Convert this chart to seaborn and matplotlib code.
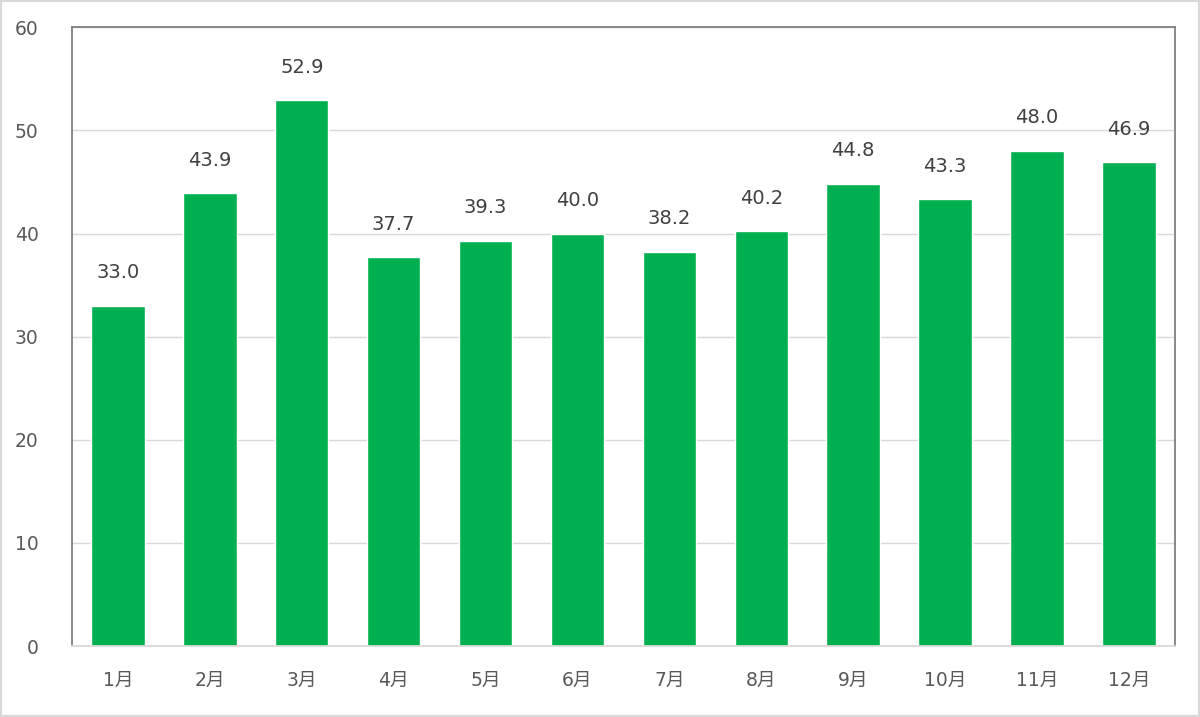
import numpy as np
import pandas as pd
import matplotlib
matplotlib.use("Agg")
import matplotlib.pyplot as plt
import seaborn as sns
from matplotlib.patches import Rectangle

# Data
months = ["1月", "2月", "3月", "4月", "5月", "6月",
          "7月", "8月", "9月", "10月", "11月", "12月"]
values = [33.0, 43.9, 52.9, 37.7, 39.3, 40.0,
          38.2, 40.2, 44.8, 43.3, 48.0, 46.9]
y_ticks = [0, 10, 20, 30, 40, 50, 60]

df = pd.DataFrame({"month": months, "value": values})

sns.set_theme(style="white")
# digits look like a wide sans (Verdana / Meiryo), CJK falls back to Noto
plt.rcParams["font.family"] = ["DejaVu Sans", "Noto Sans CJK JP"]

text_color = "#595959"
bar_color = "#00B050"
grid_color = "#d9d9d9"

fig = plt.figure(figsize=(12, 7.17), dpi=100)
ax = fig.add_axes([0.06, 0.099, 0.919, 0.863])

sns.barplot(data=df, x="month", y="value", color=bar_color,
            saturation=1, width=0.58, ax=ax)

ax.set_ylim(0, 60)
ax.set_xlim(-0.5, len(months) - 0.5)
ax.set_yticks(y_ticks)
ax.set_yticklabels([str(t) for t in y_ticks])
ax.yaxis.grid(True, color=grid_color, linewidth=1)
ax.set_axisbelow(True)
ax.set_xlabel("")
ax.set_ylabel("")

# spines
for side in ["left", "top", "right"]:
    ax.spines[side].set_color("#808080")
    ax.spines[side].set_linewidth(1.3)
ax.spines["bottom"].set_color(grid_color)
ax.spines["bottom"].set_linewidth(1.3)

ax.tick_params(axis="y", length=0, pad=24, labelsize=13.5, labelcolor=text_color)
ax.tick_params(axis="x", which="major", length=0, pad=18,
               labelsize=13.5, labelcolor=text_color)
ax.set_xticks(np.arange(-0.5, len(months)), minor=True)
ax.tick_params(axis="x", which="minor", length=7, width=1.3,
               color=grid_color, direction="out")

# value labels
for i, v in enumerate(values):
    ax.annotate(f"{v:.1f}", xy=(i, v), xytext=(0, 17),
                textcoords="offset points", ha="center", va="bottom",
                fontsize=14, color="#404040")

# outer figure border
fig.patches.append(Rectangle((0, 0), 1, 1, transform=fig.transFigure,
                             fill=False, edgecolor="#d9d9d9", linewidth=3))

fig.savefig("out.png", dpi=100)
